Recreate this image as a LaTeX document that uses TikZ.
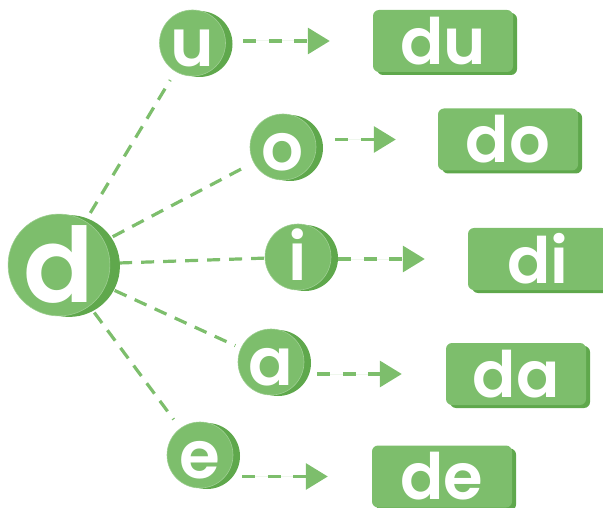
\documentclass[tikz,border=0pt]{standalone}
\usepackage{fontspec}
\setmainfont{Poppins}[BoldFont={Poppins SemiBold}]
\usetikzlibrary{arrows.meta,shadows}
\definecolor{lg}{HTML}{7DBE6C}
\definecolor{dg}{HTML}{5FA84C}
\pgfdeclarelayer{bg}
\pgfsetlayers{bg,main}
\begin{document}
\begin{tikzpicture}[x=1pt,y=-1pt,
  coin/.style={circle, fill=lg, draw=lg!75!white, line width=0.6pt, inner sep=0pt,
    minimum size=66pt, text=white, text height=47pt, text depth=0pt,
    font=\bfseries\fontsize{66}{66}\selectfont,
    drop shadow={shadow xshift=7pt, shadow yshift=-1pt, fill=dg, opacity=1}},
  bigcoin/.style={circle, fill=lg, draw=lg!75!white, line width=0.6pt, inner sep=0pt,
    minimum size=100pt, text=white, text height=74pt, text depth=0pt,
    font=\bfseries\fontsize{104}{104}\selectfont,
    drop shadow={shadow xshift=10pt, shadow yshift=-1pt, fill=dg, opacity=1}},
  syl/.style={rectangle, rounded corners=6pt, fill=lg, inner sep=0pt,
    minimum width=140pt, minimum height=62pt, text=white,
    font=\bfseries\fontsize{64}{64}\selectfont,
    drop shadow={shadow xshift=4pt, shadow yshift=-3pt, fill=dg, opacity=1}},
  link/.style={draw=lg, line width=3.2pt, dash pattern=on 13pt off 9pt},
  arr/.style={draw=lg, line width=3.2pt, dash pattern=on 13pt off 12.5pt,
    -{Triangle[length=22pt,width=26pt]}, fill=lg}
]
\useasboundingbox (0,0) rectangle (603,508);
\clip (0,0) rectangle (603,508);

\node[bigcoin] (d) at (59,265) {d};
\node[coin] (u) at (192.5,43) {u};
\node[coin] (o) at (283,147) {o};
\node[coin] (i) at (298,257) {i};
\node[coin] (a) at (271,362) {a};
\node[coin] (e) at (200,455) {e};

\node[syl] (du) at (443,41) {du};
\node[syl] (do) at (508,139.5) {do};
\node[syl] (di) at (538,259) {di};
\node[syl] (da) at (516,374) {da};
\node[syl] (de) at (442,476.5) {de};

\begin{pgfonlayer}{bg}
\draw[link, shorten <=9.5pt, shorten >=10pt] (d) -- (u);
\draw[link, shorten <=9.5pt, shorten >=9pt] (d) -- (o);
\draw[link, shorten <=9pt] (d) -- (i);
\draw[link, shorten <=10pt, shorten >=6pt] (d) -- (a);
\draw[link, shorten <=8pt, shorten >=11pt] (d) -- (e);
\end{pgfonlayer}

\draw[arr, shorten <=17.5pt, shorten >=43pt] (u.east |- du.west) -- (du.west);
\draw[arr, shorten <=19pt, shorten >=42pt] (o.east |- do.west) -- (do.west);
\draw[arr, shorten <=7pt, shorten >=43pt] (i.east |- di.west) -- (di.west);
\draw[arr, shorten <=13pt, shorten >=44pt] (a.east |- da.west) -- (da.west);
\draw[arr, shorten <=9pt, shorten >=44pt] (e.east |- de.west) -- (de.west);
\end{tikzpicture}
\end{document}
